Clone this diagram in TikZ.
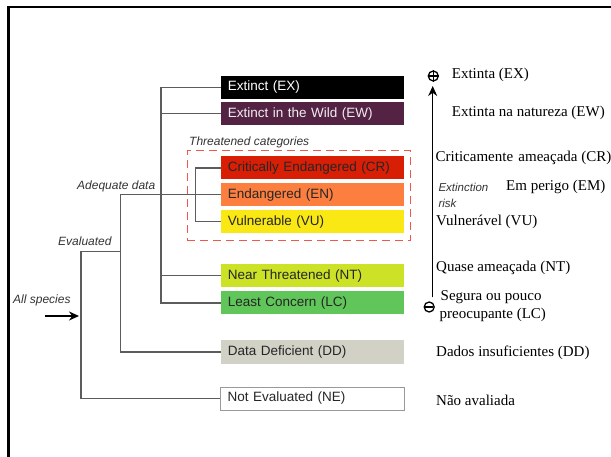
\documentclass[tikz,border=0pt]{standalone}
\usepackage{fontspec}
\setmainfont{Liberation Serif}
\setsansfont{Liberation Sans}
\usetikzlibrary{arrows.meta}

% IUCN category colours
\definecolor{cEX}{HTML}{000000}
\definecolor{cEW}{HTML}{542344}
\definecolor{cCR}{HTML}{D81E05}
\definecolor{cEN}{HTML}{FC7F3F}
\definecolor{cVU}{HTML}{F9E814}
\definecolor{cNT}{HTML}{CCE226}
\definecolor{cLC}{HTML}{60C659}
\definecolor{cDD}{HTML}{D1D1C6}
\definecolor{treegray}{HTML}{5C5C5C}
\definecolor{labelgray}{HTML}{333333}
\definecolor{dashred}{HTML}{EE5A4A}

\begin{document}
\begin{tikzpicture}[x=1pt,y=-1pt,
  cat/.style={rectangle, anchor=west, minimum height=23pt,
    text width=169.3pt, inner xsep=7pt, inner ysep=0pt, align=left,
    font=\sffamily\fontsize{13.5}{16}\selectfont, text=black!85},
  tree/.style={draw=treegray, line width=1.4pt},
  lbl/.style={anchor=west, inner sep=0pt, text=labelgray,
    font=\sffamily\itshape\fontsize{12}{14}\selectfont},
  pt/.style={anchor=west, inner sep=0pt,
    font=\rmfamily\fontsize{15}{18.3}\selectfont},
  sign/.style={circle, draw, line width=1.3pt, minimum size=10pt, inner sep=0pt},
  bigarrow/.style={line width=1.4pt, -{Stealth[length=10pt,width=9pt]}}
]
\useasboundingbox (0,0) rectangle (611,457);

% frame edges
\draw[line width=2pt] (7.5,7) -- (611,7);
\draw[line width=3pt] (8.5,6) -- (8.5,457);

% category boxes
\node[cat, fill=cEX, text=white] (ex) at (220.7,87.5) {Extinct (EX)};
\node[cat, fill=cEW, text=white!92!cEW] (ew) at (220.7,113.7) {Extinct in the Wild (EW)};
\node[cat, fill=cCR] (cr) at (220.7,167.9) {Critically Endangered (CR)};
\node[cat, fill=cEN] (en) at (220.7,194.7) {Endangered (EN)};
\node[cat, fill=cVU] (vu) at (220.7,221.7) {Vulnerable (VU)};
\node[cat, fill=cNT] (nt) at (220.7,275.8) {Near Threatened (NT)};
\node[cat, fill=cLC] (lc) at (220.7,303) {Least Concern (LC)};
\node[cat, fill=cDD] (dd) at (220.7,352) {Data Deficient (DD)};
\node[cat, fill=white, draw=gray!80, line width=1pt, minimum width=184pt,
      text width=170pt, inner xsep=7pt] (ne) at (220.2,398.5) {Not Evaluated (NE)};

% threatened group
\node[rectangle, draw=dashred, line width=1.3pt, dash pattern=on 8pt off 5pt,
      minimum width=223.3pt, minimum height=90pt, anchor=north west, inner sep=0pt]
      (thr) at (186.7,150) {};
\node[lbl] (thrlbl) at (189,142.7) {Threatened categories};

% branch x positions
\coordinate (bx0) at (81,0);
\coordinate (bx2) at (120.7,0);
\coordinate (bx1) at (161,0);
\coordinate (bx3) at (195.7,0);
\coordinate (evj) at (120.7,251.7);

% tree connectors
\draw[tree] (ex.west) -- (ex.west -| bx1) -- (lc.west -| bx1) -- (lc.west);
\draw[tree] (ew.west) -- (ew.west -| bx1);
\draw[tree] (nt.west) -- (nt.west -| bx1);
\draw[tree] (cr.west) -- (cr.west -| bx3) -- (vu.west -| bx3) -- (vu.west);
\draw[tree] (en.west) -- (en.west -| bx2) -- (dd.west -| bx2) -- (dd.west);
\draw[tree] (evj) -- (evj -| bx0) -- (ne.west -| bx0) -- (ne.west);

% tree labels
\node[lbl] (adq) at (77,186) {Adequate data};
\node[lbl] (evl) at (58,241.7) {Evaluated};
\node[lbl] (alls) at (13,300.7) {All species};
\coordinate (allstart) at (45,316);
\coordinate (allend) at (79,316);
\draw[bigarrow] (allstart) -- (allend);

% extinction risk scale
\node[sign] (plus) at (433.3,76) {};
\draw[line width=1.3pt] (plus.west) -- (plus.east) (plus.north) -- (plus.south);
\node[sign] (minus) at (429.2,307) {};
\draw[line width=2.2pt] ([xshift=1.8pt]minus.west) -- ([xshift=-1.8pt]minus.east);
\coordinate (riskbot) at (432.7,297.5);
\coordinate (risktop) at (432.7,86);
\draw[bigarrow] (riskbot) -- (risktop);
\node[lbl, align=left, text=black!80, font=\sffamily\itshape\fontsize{11.5}{15.3}\selectfont]
      (risk) at (438.3,195.3) {Extinction\\risk};

% Portuguese names
\node[pt] (tEX) at (451.7,75) {Extinta (EX)};
\node[pt] (tEW) at (451.7,113) {Extinta na natureza (EW)};
\node[pt] (tCR) at (435.5,158.3) {Criticamente\hspace{1.5pt} ameaçada (CR)};
\node[pt] (tEN) at (506,186.7) {Em perigo (EM)};
\node[pt] (tVU) at (436,222) {Vulnerável (VU)};
\node[pt] (tNT) at (436,268.3) {Quase ameaçada (NT)};
\node[pt, align=left] (tLC) at (439.5,305.8) {\hspace{1pt}Segura ou pouco\\preocupante (LC)};
\node[pt] (tDD) at (436,353.3) {Dados insuficientes (DD)};
\node[pt] (tNE) at (436,400) {Não avaliada};
\end{tikzpicture}
\end{document}
